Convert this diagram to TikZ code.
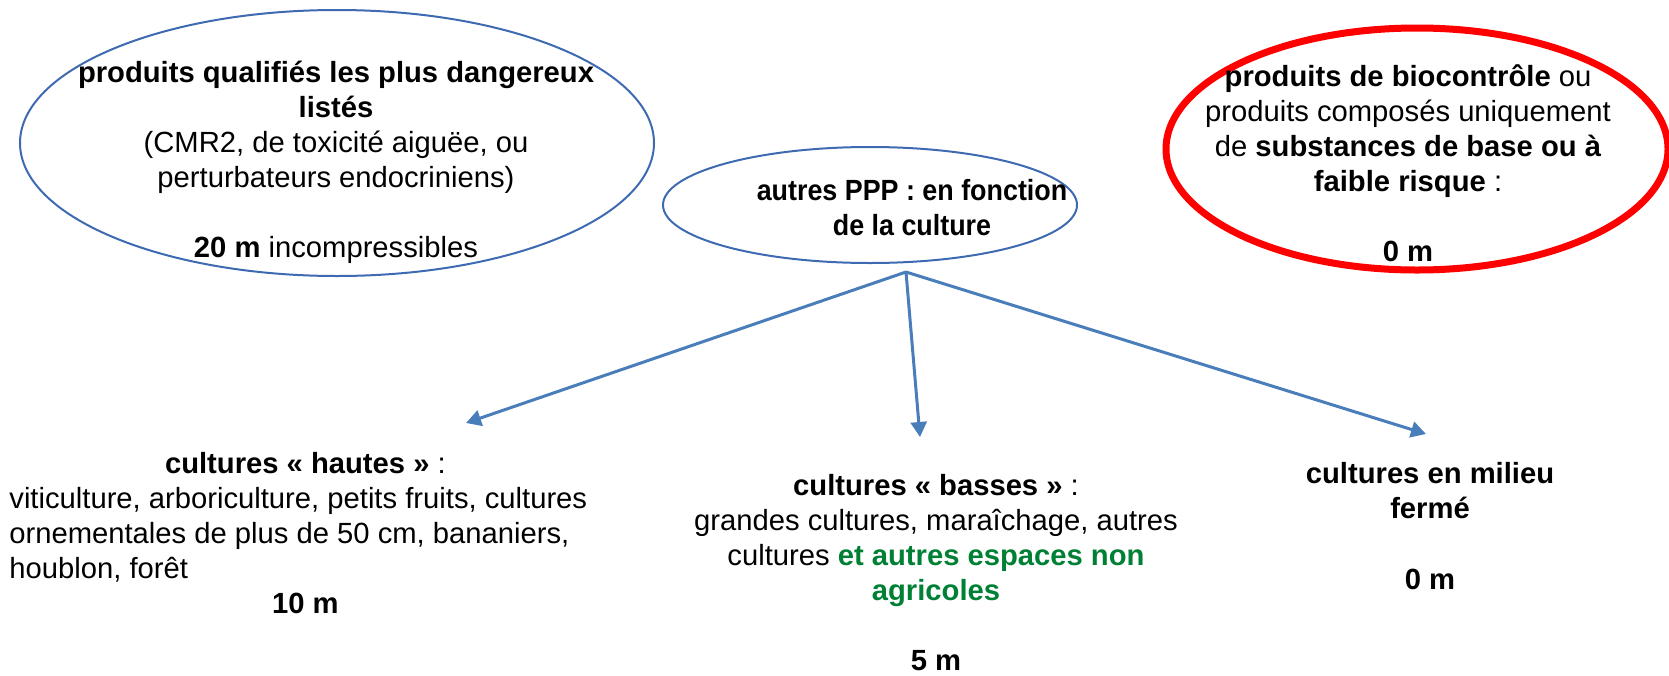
\documentclass[tikz,border=0pt]{standalone}
\usepackage{fontspec}
\setmainfont{Liberation Sans}
\newfontfamily\midsans[FakeStretch=0.92]{Liberation Sans}
\usetikzlibrary{shapes.geometric,arrows.meta,positioning}
\definecolor{ovalblue}{RGB}{62,106,178}
\definecolor{arrowblue}{RGB}{74,126,187}
\definecolor{alertred}{RGB}{255,0,0}
\definecolor{nonagri}{RGB}{0,128,52}
\begin{document}
\begin{tikzpicture}[x=0.5pt,y=-0.5pt,inner sep=0pt,
	plain/.style={font=\fontsize{14.6}{17.5}\selectfont},
	medium/.style={font=\fontsize{14.6}{17.5}\midsans},
	txt/.style={align=center,anchor=base},
	oval/.style={ellipse,draw=ovalblue,line width=1pt},
	redoval/.style={ellipse,draw=alertred,line width=3.5pt},
	link/.style={draw=arrowblue,line width=1.5pt,-{Triangle[length=7.5pt,width=8pt]}}]
			\useasboundingbox (0,0) rectangle (1669,675);

			\node(danger) [oval,minimum width=317pt,minimum height=133pt] at (337,143) {};
			\node(ppp) [oval,minimum width=207pt,minimum height=58pt] at (870,205) {};
			\node(bio) [redoval,minimum width=251pt,minimum height=121pt] at (1417,149) {};

			\node(dangertxt) [plain,txt] at (336,257) {\textbf{produits qualifiés les plus dangereux}\\ \textbf{listés}\\ (CMR2, de toxicité aiguëe, ou\\ perturbateurs endocriniens)\\[17.5pt] \textbf{20 m} incompressibles};
			\node(ppptxt) [medium,txt] at (912,235) {\textbf{autres PPP : en fonction}\\ \textbf{de la culture}};
			\node(biotxt) [plain,txt] at (1408,261) {\textbf{produits de biocontrôle} ou\\ produits composés uniquement\\ de \textbf{substances de base ou à}\\ \textbf{faible risque} :\\[17.5pt] \textbf{0 m}};

			\node(hautes) [plain,align=flush left,anchor=base west,text width=296pt] at (9,473) {\makebox[296pt]{\textbf{cultures « hautes »} :}\\ viticulture, arboriculture, petits fruits, cultures\\ ornementales de plus de 50 cm, bananiers,\\ houblon, forêt\\ \makebox[296pt]{\textbf{10 m}}};
			\node(basses) [plain,txt] at (936,670) {\textbf{cultures « basses »} :\\ grandes cultures, maraîchage, autres\\ cultures \textcolor{nonagri}{\textbf{et autres espaces non}}\\ \textcolor{nonagri}{\textbf{agricoles}}\\[17.5pt] \textbf{5 m}};
			\node(ferme) [plain,txt] at (1430,589) {\textbf{cultures en milieu}\\ \textbf{fermé}\\[18pt] \textbf{0 m}};

			\coordinate(fork) at (906,272);
			\coordinate(tohautes) at (466,423);
			\coordinate(tobasses) at (920,437);
			\coordinate(toferme) at (1426,434);

			\draw[link] (fork) -- (tohautes);
			\draw[link] (fork) -- (tobasses);
			\draw[link] (fork) -- (toferme);
		\end{tikzpicture}
\end{document}
